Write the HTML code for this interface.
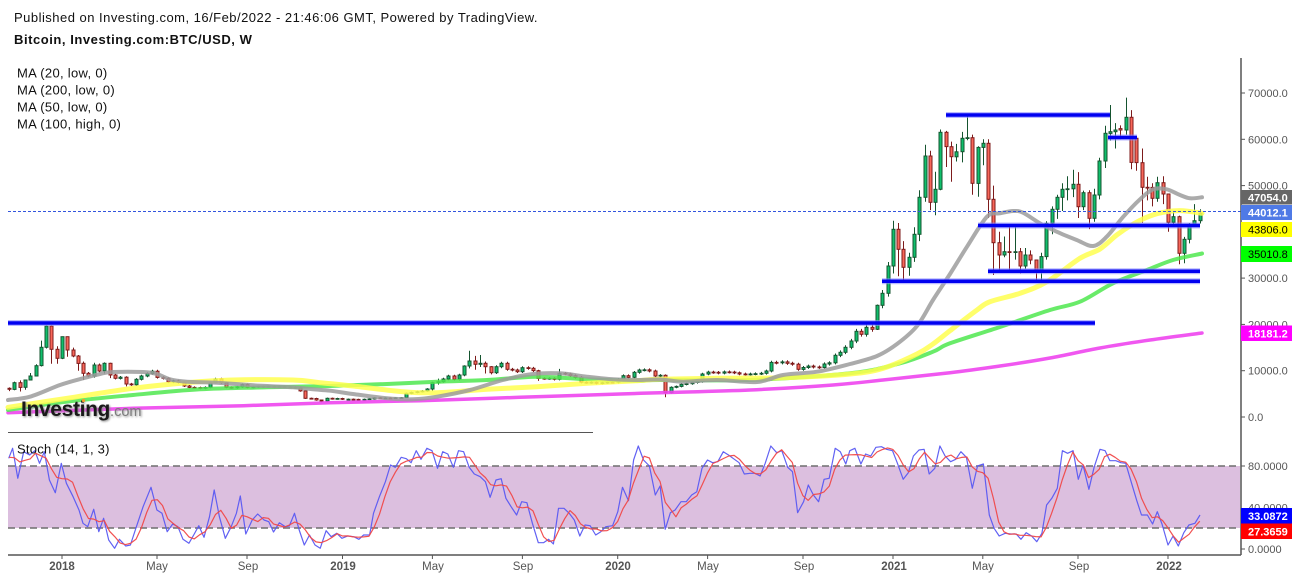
<!DOCTYPE html>
<html><head><meta charset="utf-8">
<style>
html,body{margin:0;padding:0;background:#fff;}
body{width:1299px;height:579px;overflow:hidden;position:relative;font-family:"Liberation Sans",Arial,sans-serif;}
svg{position:absolute;left:0;top:0;}
</style></head><body>
<svg id="c" width="1299" height="579" viewBox="0 0 1299 579" xmlns="http://www.w3.org/2000/svg" font-family="Liberation Sans, Arial, sans-serif">
<rect x="0" y="0" width="1299" height="579" fill="#fff"/>
<!-- stoch band -->
<rect x="8" y="466" width="1232" height="62" fill="#dcbfdf"/>
<line x1="8" y1="466" x2="1240" y2="466" stroke="#6e6e6e" stroke-width="1.5" stroke-dasharray="7,4"/>
<line x1="8" y1="528" x2="1240" y2="528" stroke="#6e6e6e" stroke-width="1.5" stroke-dasharray="7,4"/>
<g id="candles"></g>
<g id="mas" fill="none" stroke-linecap="round" stroke-linejoin="round"></g>
<!-- blue horizontal lines -->
<g stroke-linecap="butt">
<g stroke="#8c8cff" stroke-width="6" opacity="0.6">
<line x1="8" y1="323" x2="1095" y2="323"/>
<line x1="946" y1="115" x2="1110" y2="115"/>
<line x1="1108" y1="137.5" x2="1137" y2="137.5"/>
<line x1="978" y1="225.5" x2="1200" y2="225.5"/>
<line x1="988" y1="271.3" x2="1200" y2="271.3"/>
<line x1="882" y1="281.3" x2="1200" y2="281.3"/>
</g>
<g stroke="#0000f0" stroke-width="3.5">
<line x1="8" y1="323" x2="1095" y2="323"/>
<line x1="946" y1="115" x2="1110" y2="115"/>
<line x1="1108" y1="137.5" x2="1137" y2="137.5"/>
<line x1="978" y1="225.5" x2="1200" y2="225.5"/>
<line x1="988" y1="271.3" x2="1200" y2="271.3"/>
<line x1="882" y1="281.3" x2="1200" y2="281.3"/>
</g>
</g>
<line x1="8" y1="211.5" x2="1241" y2="211.5" stroke="#3355dd" stroke-width="1" stroke-dasharray="3,2"/>
<g id="stoch" fill="none" stroke-linejoin="round"></g>

<!-- separator & axes -->
<line x1="8" y1="432.5" x2="593" y2="432.5" stroke="#555" stroke-width="1"/>
<line x1="8" y1="555" x2="1241" y2="555" stroke="#555" stroke-width="1.5"/>
<line x1="1241" y1="58" x2="1241" y2="555" stroke="#555" stroke-width="1.5"/>

<!-- price ticks -->
<g stroke="#555" stroke-width="1">
<line x1="1241" y1="93" x2="1245" y2="93"/>
<line x1="1241" y1="139.3" x2="1245" y2="139.3"/>
<line x1="1241" y1="185.6" x2="1245" y2="185.6"/>
<line x1="1241" y1="278.1" x2="1245" y2="278.1"/>
<line x1="1241" y1="324.4" x2="1245" y2="324.4"/>
<line x1="1241" y1="370.7" x2="1245" y2="370.7"/>
<line x1="1241" y1="417" x2="1245" y2="417"/>
<line x1="1241" y1="466" x2="1245" y2="466"/>
<line x1="1241" y1="549" x2="1245" y2="549"/>
</g>
<g font-size="11" fill="#555">
<text x="1248" y="97">70000.0</text>
<text x="1248" y="143.3">60000.0</text>
<text x="1248" y="189.6">50000.0</text>
<text x="1248" y="282.1">30000.0</text>
<text x="1248" y="328.4">20000.0</text>
<text x="1248" y="374.7">10000.0</text>
<text x="1248" y="421">0.0</text>
<text x="1248" y="470">80.0000</text>
<text x="1248" y="511.5">40.0000</text>
<text x="1248" y="553">0.0000</text>
</g>
<!-- value boxes -->
<rect x="1241" y="190" width="51" height="14.5" fill="#666"/>
<text x="1248" y="201.5" font-size="11" font-weight="bold" fill="#fff">47054.0</text>
<rect x="1241" y="205" width="51" height="15" fill="#4f7ae6"/>
<text x="1248" y="216.5" font-size="11" font-weight="bold" fill="#fff">44012.1</text>
<rect x="1241" y="222" width="51" height="15" fill="#ffff00"/>
<text x="1248" y="233.5" font-size="11" fill="#000">43806.0</text>
<rect x="1241" y="246" width="51" height="16" fill="#00ff00"/>
<text x="1248" y="258" font-size="11" fill="#000">35010.8</text>
<rect x="1241" y="325.5" width="51" height="15.5" fill="#ff00ff"/>
<text x="1248" y="337.5" font-size="11" font-weight="bold" fill="#fff">18181.2</text>
<rect x="1241" y="508" width="51" height="15.5" fill="#0000ff"/>
<text x="1248" y="520" font-size="11" font-weight="bold" fill="#fff">33.0872</text>
<rect x="1241" y="523.5" width="51" height="15.5" fill="#ff0000"/>
<text x="1248" y="535.5" font-size="11" font-weight="bold" fill="#fff">27.3659</text>

<!-- date axis -->
<g stroke="#555" stroke-width="1">
<line x1="62" y1="555" x2="62" y2="559"/><line x1="157" y1="555" x2="157" y2="559"/><line x1="247" y1="555" x2="247" y2="559"/>
<line x1="342.5" y1="555" x2="342.5" y2="559"/><line x1="432.4" y1="555" x2="432.4" y2="559"/><line x1="522.4" y1="555" x2="522.4" y2="559"/>
<line x1="617.7" y1="555" x2="617.7" y2="559"/><line x1="707.6" y1="555" x2="707.6" y2="559"/><line x1="803" y1="555" x2="803" y2="559"/>
<line x1="893" y1="555" x2="893" y2="559"/><line x1="982.8" y1="555" x2="982.8" y2="559"/><line x1="1078" y1="555" x2="1078" y2="559"/>
<line x1="1168" y1="555" x2="1168" y2="559"/>
</g>
<g font-size="11.5" fill="#555" text-anchor="middle">
<text x="62" y="570" font-weight="bold">2018</text>
<text x="157" y="570">May</text>
<text x="248" y="570">Sep</text>
<text x="343" y="570" font-weight="bold">2019</text>
<text x="433" y="570">May</text>
<text x="523" y="570">Sep</text>
<text x="618" y="570" font-weight="bold">2020</text>
<text x="708" y="570">May</text>
<text x="804" y="570">Sep</text>
<text x="894" y="570" font-weight="bold">2021</text>
<text x="983" y="570">May</text>
<text x="1079" y="570">Sep</text>
<text x="1169" y="570" font-weight="bold">2022</text>
</g>

<!-- header -->
<text x="14" y="22" font-size="13" letter-spacing="0.48" fill="#111">Published on Investing.com, 16/Feb/2022 - 21:46:06 GMT, Powered by TradingView.</text>
<text x="14" y="44" font-size="13" font-weight="bold" letter-spacing="0.55" fill="#111">Bitcoin, Investing.com:BTC/USD, W</text>
<g font-size="13" letter-spacing="0.3" fill="#111">
<text x="17" y="77.5">MA (20, low, 0)</text>
<text x="17" y="94.5">MA (200, low, 0)</text>
<text x="17" y="111.5">MA (50, low, 0)</text>
<text x="17" y="128.5">MA (100, high, 0)</text>
</g>
<text x="17" y="453.5" font-size="13" letter-spacing="0.24" fill="#111">Stoch (14, 1, 3)</text>

<!-- logo -->
<text x="21" y="416" font-size="21" font-weight="bold" letter-spacing="-0.35" fill="#1a1a1a" style="text-shadow:1px 1px 2px #888">Investing<tspan font-size="14.5" font-weight="normal" letter-spacing="0" fill="#7c7c7c">.com</tspan></text>
<circle cx="83.5" cy="400.5" r="1.6" fill="#f39c2b"/>
</svg>
<script>
(function(){
var X=function(i){return 62+5.292*i;};
var Y=function(v){return 417-v*4.629;};
var closes=[5.98,7.42,6.41,7.99,8.86,11.09,15.05,19.66,14.62,12.68,
17.35,14.47,13.18,11.59,9.43,8.86,11.23,9.94,11.59,9.07,
8.35,8.6,7.13,6.95,8.14,8.86,9.4,9.9,8.57,8.35,
7.56,7.8,7.45,6.7,6.4,6.35,6.2,6.4,7.42,8.21,
7.42,6.41,6.3,6.5,7.0,6.4,6.5,6.6,6.55,6.6,
6.4,6.55,6.45,6.4,6.35,5.63,4.03,4.0,3.67,3.45,
4.03,3.9,4.0,3.82,3.85,3.8,3.67,3.82,3.9,4.15,
4.1,4.1,4.05,4.15,4.17,5.11,5.3,5.47,5.62,6.05,
7.42,7.63,8.21,8.86,8.14,9.07,11.02,12.1,11.38,11.6,
10.87,9.58,10.87,11.6,10.3,10.15,9.79,10.65,10.51,10.01,
8.35,8.3,8.35,8.14,9.43,9.3,8.93,8.57,7.49,7.4,
7.5,7.28,7.4,7.5,7.49,8.14,8.93,8.57,9.65,10.15,
10.2,9.94,8.86,9.0,5.25,6.41,6.6,7.06,7.2,7.45,
7.63,9.29,9.7,9.65,9.5,9.75,9.7,9.55,9.3,9.25,
9.3,9.35,9.45,9.94,11.8,11.7,11.9,11.6,11.4,10.3,
10.7,11.0,10.8,10.7,11.45,11.7,13.33,13.98,15.06,16.42,
18.51,17.86,19.38,18.95,24.13,26.72,32.62,40.55,36.23,32.34,
34.5,39.47,47.46,56.38,46.38,49.19,61.5,58.4,56.23,57.3,
60.2,60.33,50.48,58.25,59.13,47.03,37.66,35.0,35.72,35.7,
35.72,32.62,35.0,33.92,31.6,34.65,41.84,44.87,47.46,49.19,
49.3,50.27,45.43,48.45,42.93,47.96,55.3,61.28,61.64,62.0,
62.0,64.74,55.0,54.94,49.62,49.6,47.24,50.62,48.17,42.05,
43.27,35.36,38.39,41.63,42.41,44.01];
var opens={'-10':6.2,'203':60.2,'200':62.3};
var hl={'-10':[6.4,5.6],'-8':[7.9,5.5],'-7':[8.1,5.9],'-6':[9.5,7.9],'-5':[11.4,8.8],'-4':[16.5,10.9],'-3':[19.8,14.8],'-2':[19.8,11.5],'-1':[15.3,11.5],
'0':[17.4,12.5],'1':[17.4,13.0],'2':[15.0,12.9],'3':[13.4,10.0],'4':[12.0,8.0],'6':[11.7,8.5],'8':[11.8,9.4],'9':[11.7,8.4],'12':[8.8,6.6],'29':[8.5,7.3],
'46':[5.7,3.9],'49':[3.7,3.2],'65':[5.3,4.1],'70':[7.6,5.6],'71':[8.3,7.0],'76':[11.2,8.8],'77':[14.3,10.5],'78':[13.2,10.2],'79':[13.4,10.8],'80':[12.0,9.4],'81':[11.0,9.2],
'90':[10.2,7.8],'94':[10.4,7.9],'114':[9.2,4.25],'154':[24.3,18.8],'157':[42.4,31.0],'158':[41.9,30.4],'159':[38.0,29.2],'160':[35.5,30.5],'161':[41.0,33.5],'162':[49.0,38.0],
'163':[58.8,46.5],'164':[57.5,44.7],'165':[53.0,43.6],'166':[62.1,49.0],'167':[61.8,54.0],'168':[59.5,50.8],'169':[59.0,55.2],'170':[61.6,55.0],'171':[65.2,59.8],'172':[61.0,48.0],
'173':[58.5,47.6],'174':[60.0,54.4],'175':[60.0,43.0],'176':[50.0,30.68],'177':[40.0,31.5],'178':[39.0,34.5],'179':[41.3,31.5],'180':[41.7,34.0],'181':[36.5,31.0],'182':[36.5,32.0],
'183':[36.0,33.0],'184':[34.0,29.3],'185':[35.5,29.5],'186':[42.3,34.0],'187':[45.5,39.5],'188':[48.0,42.8],'189':[50.5,44.5],'190':[52.0,46.8],'191':[53.4,47.5],'192':[52.9,43.0],
'193':[48.9,44.7],'194':[49.0,40.6],'195':[49.3,42.2],'196':[56.0,47.0],'197':[62.9,53.8],'198':[67.4,59.7],'199':[63.5,58.0],'200':[63.0,60.0],'201':[69.0,61.0],'202':[66.3,53.5],
'203':[60.5,53.2],'204':[58.0,42.0],'205':[51.9,46.8],'206':[50.5,45.5],'207':[51.9,46.5],'208':[52.0,46.0],'209':[48.2,40.0],'210':[44.4,41.3],'211':[43.5,33.0],'212':[38.9,33.2],
'213':[41.9,37.5],'214':[46.0,41.2],'215':[44.9,41.8]};
var s='';
var prev=null;
for(var k=0;k<closes.length;k++){
  var i=k-10;
  var c=closes[k];
  var o=(opens[i]!==undefined)?opens[i]:(prev===null?c:prev);
  var h,l;
  if(hl[i]){h=Math.max(hl[i][0],o,c);l=Math.min(hl[i][1],o,c);}
  else{h=Math.max(o,c)*1.025+0.05;l=Math.min(o,c)*0.975-0.05;}
  var cx=Math.round(X(i));
  var up=c>=o;
  var fill=up?'#0fc06c':'#f8675a';
  var brd=up?'#15542f':'#7d1b1b';
  var yt=Y(Math.max(o,c)), yb=Y(Math.min(o,c));
  var bh=Math.max(0.8,yb-yt);
  s+='<line x1="'+(cx+0.5)+'" y1="'+Y(h).toFixed(1)+'" x2="'+(cx+0.5)+'" y2="'+Y(l).toFixed(1)+'" stroke="'+brd+'" stroke-width="1"/>';
  s+='<rect x="'+(cx-1)+'" y="'+yt.toFixed(1)+'" width="3" height="'+bh.toFixed(1)+'" fill="'+fill+'" stroke="'+brd+'" stroke-width="1"/>';
  prev=c;
}
document.getElementById('candles').innerHTML=s;

function smooth(p){
  var d='M'+p[0][0]+','+p[0][1];
  for(var i=0;i<p.length-1;i++){
    var p0=p[i-1]||p[i],p1=p[i],p2=p[i+1],p3=p[i+2]||p2;
    var c1x=p1[0]+(p2[0]-p0[0])/6,c1y=p1[1]+(p2[1]-p0[1])/6;
    var c2x=p2[0]-(p3[0]-p1[0])/6,c2y=p2[1]-(p3[1]-p1[1])/6;
    d+=' C'+c1x.toFixed(1)+','+c1y.toFixed(1)+' '+c2x.toFixed(1)+','+c2y.toFixed(1)+' '+p2[0]+','+p2[1];
  }
  return d;
}
var gray=[[8,400],[30,396.7],[60,385],[83,378.3],[100,374],[113,372],[143,372],[157,374],[170,379.3],[187,381.7],[217,382.7],[253,385.3],[293,387.3],[313,389.3],[330,390.7],[353,394],[387,398.3],[413,399.3],[437,396.7],[470,390],[503,380],[533,374],[560,373.3],[587,376.7],[613,379.3],[637,380],[660,379.5],[683,381.7],[717,380],[757,382],[783,375],[817,371.7],[850,364],[877,356],[897,344],[917,326],[933,300],[950,274],[967,246.7],[987,216.7],[1000,213.3],[1013,211],[1023,212.7],[1040,223.3],[1056.7,231.7],[1076.7,240],[1093.3,246],[1106.7,236.7],[1123.3,216.7],[1140,199.3],[1153.3,189.3],[1166.7,189.3],[1180,195],[1190,198.3],[1202,197.3]];
var yellow=[[8,407.3],[67,398.3],[133,388.3],[187,382.7],[233,380],[293,380],[320,382.7],[353,386],[403,391.7],[437,392.7],[487,389.3],[537,386.7],[587,383.3],[637,380.7],[660,379.3],[717,378.3],[783,377.7],[850,374],[883,368.3],[917,354],[933,344],[950,330.7],[977,310],[990,301.7],[1020,293.3],[1047,281.7],[1080,258.3],[1100,249],[1116.7,235],[1133.3,224],[1150,216],[1166.7,211.7],[1183.3,210.7],[1202,213.3]];
var green=[[8,410],[67,401.7],[133,395],[200,389.3],[267,387.3],[330,386],[387,384],[437,381.7],[487,380],[537,376.7],[587,379.3],[637,380.7],[660,380],[750,380],[850,373.3],[900,363.3],[933,351.7],[950,343.3],[1000,327],[1050,310],[1080,301.7],[1113,283.3],[1147,270],[1173,260],[1202,253.5]];
var mag=[[8,412.7],[133,408.3],[233,406],[330,402.7],[420,400.7],[520,397.3],[620,394],[660,392.7],[750,390],[833,385],[883,380],[950,372.7],[1000,366],[1050,358],[1100,348],[1150,340],[1202,333]];
var m='';
m+='<path d="'+smooth(mag)+'" stroke="#ee45ee" stroke-width="3.5" opacity="0.9"/>';
m+='<path d="'+smooth(green)+'" stroke="#4fe84f" stroke-width="4" opacity="0.85"/>';
m+='<path d="'+smooth(yellow)+'" stroke="#ffff50" stroke-width="5" opacity="0.85"/>';
m+='<path d="'+smooth(gray)+'" stroke="#9c9c9c" stroke-width="4" opacity="0.85"/>';
document.getElementById('mas').innerHTML=m;

var kp=[[8.7,458.3],[12.6,448.3],[17.8,478.3],[23.7,451.7],[29.6,455],[34.8,450.7],[39.5,463.3],[44.3,451.7],[49.4,480],[55.3,492.7],[61.3,463.3],[66.4,483.3],[73.1,496.7],[79,510],[83,523.3],[87.7,526.7],[93.7,509.3],[98.8,531.7],[103.6,518.3],[108.7,540],[114.6,548.3],[119.4,539.3],[125.7,546],[130.4,545],[136.4,526.7],[143.1,506.7],[151,487.3],[156.9,510],[162,513.3],[167.2,531.7],[172.7,524],[177.9,526.7],[183,539.3],[188.9,543.3],[193.7,535],[198.8,525.7],[204,537.3],[209.5,516.7],[214.2,490],[219.4,516.7],[225.3,538.3],[231.2,526.7],[236.4,513.3],[240.3,496],[245.8,534],[252.2,520],[257.7,514],[264,520],[268.8,521.7],[273.5,532],[279.4,522.7],[285.4,526.7],[289.3,526],[294.5,513.3],[299.2,530],[304.3,545],[309.5,535],[315,545],[320.2,548.3],[326.1,530.7],[331.2,536.7],[336.8,533.3],[341.9,538.3],[347.8,536],[353.8,536.7],[358.9,539.3],[363.6,535],[369.6,535],[373.5,513.3],[379.4,496.7],[385.4,481.7],[390.5,465],[395.3,467.3],[401.2,457.3],[406.3,458.7],[411.1,462.7],[416.2,450.7],[421,459.3],[426.9,448.3],[432,450.7],[437.5,468.3],[442.7,451.7],[447.8,454],[453.4,467.3],[458.5,450.7],[463.6,451.7],[469.2,467.3],[474.3,474],[480.2,476.7],[485.4,481.7],[490.1,497.3],[496,480],[501.2,478.7],[505.9,498.3],[511.1,506.7],[516.6,515],[521.7,501.7],[526.9,502.7],[532.4,523.3],[538.3,542.7],[543.5,542.7],[548.6,539.3],[553.4,544],[558.5,508.3],[564,508.3],[569.2,513.3],[574.3,520],[579.8,536],[585,525],[590.1,525.7],[595.7,535],[600.8,531.7],[605.9,526.7],[612.6,525.7],[617.8,511.7],[622.5,487.3],[628.5,500.7],[633.6,460],[638.3,446],[643.5,460],[649.4,466],[655.3,495],[660.1,486],[665.2,529.3],[670.4,512.7],[675.1,510],[681,501.7],[686.2,501.7],[691.7,495],[696.8,491.7],[702,468.3],[707.5,460],[712.6,462.7],[717.8,461.7],[723.3,451.7],[728.5,455],[734.4,459.3],[739.1,462.7],[744.3,474],[750.2,473.3],[754.9,473.3],[760.1,476],[765.2,463.3],[770.8,446],[776.7,452.7],[781.8,450.7],[787.7,467.3],[792.5,471.7],[797.6,512.7],[803.6,501.7],[808.3,485],[813.4,495],[818.6,501.7],[824.1,479.3],[829.2,478.3],[835.2,448.3],[840.3,451.7],[845.8,464],[849.8,450.7],[854.9,448.3],[860.9,464],[865.6,454],[870.8,456],[875.9,447.3],[881.4,446.7],[886.6,449.3],[892.5,450.7],[897.2,462.7],[903.2,479.3],[908.3,472.7],[913.4,456],[919,450],[924.1,449.3],[929.2,474],[934.8,468.3],[939.9,446],[945.1,456],[950.6,461.7],[955.7,459.3],[960.9,451.7],[966.4,457.3],[972.3,488.3],[977.5,466],[983.4,464],[989.3,515],[994.1,528.3],[999.2,536],[1005.1,533.3],[1011.1,534],[1016.2,534],[1021,539.3],[1026.1,532.7],[1031.6,536],[1036.8,541.7],[1041.9,533.3],[1046.6,505],[1051.8,498.3],[1057.3,488.3],[1062.4,450.7],[1067.6,453.3],[1073.1,450.7],[1078.3,479.3],[1083,465],[1088.9,489.3],[1094.1,467.3],[1100,449.3],[1105.1,450.7],[1109.9,460.7],[1115.8,460.7],[1120.9,462.7],[1125.7,463.3],[1131.6,483.3],[1136.8,500.7],[1141.5,515],[1147.4,515],[1152.6,524],[1157.3,511.7],[1162,524],[1168,545],[1173.1,536],[1178.3,546],[1183.8,532.7],[1188.9,525],[1194.9,523.3],[1200,515]];
function interp(x){
  if(x<=kp[0][0])return kp[0][1];
  for(var j=0;j<kp.length-1;j++){
    if(x>=kp[j][0]&&x<=kp[j+1][0]){var t=(x-kp[j][0])/(kp[j+1][0]-kp[j][0]);return kp[j][1]+t*(kp[j+1][1]-kp[j][1]);}
  }
  return kp[kp.length-1][1];
}
var K=[];
for(var i=-10;i<=215;i++){K.push(interp(Math.min(X(i),1200)));}
var dpts=[];
for(var q=0;q<K.length;q++){
  var a=K[q],b=K[Math.max(0,q-1)],c2=K[Math.max(0,q-2)];
  dpts.push([X(q-10).toFixed(1),((a+b+c2)/3).toFixed(1)]);
}
var st='';
st+='<polyline points="'+kp.map(function(p){return p[0]+','+p[1];}).join(' ')+'" stroke="#5858f2" stroke-width="1.2" opacity="0.95"/>';
st+='<polyline points="'+dpts.map(function(p){return p[0]+','+p[1];}).join(' ')+'" stroke="#f04848" stroke-width="1.2" opacity="0.95"/>';
document.getElementById('stoch').innerHTML=st;
})();
</script>
</body></html>
